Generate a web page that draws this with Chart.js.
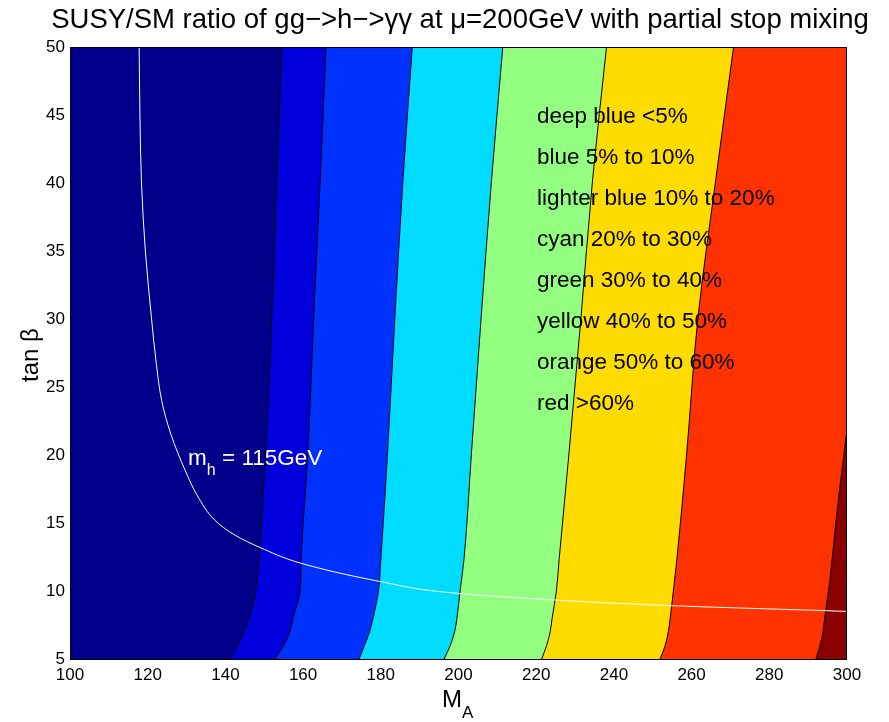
<!DOCTYPE html>
<html>
<head>
<meta charset="utf-8">
<title>SUSY/SM ratio of gg->h->γγ</title>
<script src="https://cdn.jsdelivr.net/npm/chart.js@4.4.0/dist/chart.umd.min.js"></script>
<style>
  html, body { margin: 0; padding: 0; background: #ffffff; }
  canvas { display: block; }
</style>
</head>
<body>
<canvas id="ratioPlot" width="889" height="722"></canvas>
<script>
// tan beta rows where the contour edges were sampled
var tanbRows = [5, 6, 7, 8, 10, 12.3, 20, 30, 40.2, 50];

// M_A position of each contour edge at those rows (left to right)
var edge5pc  = [141.0, 143.2, 144.6, 146.1, 147.8, 148.6, 150.3, 151.9, 153.2, 154.5];
var edge10pc = [152.8, 155.0, 156.6, 157.4, 159.2, 159.5, 161.2, 162.7, 164.4, 165.9];
var edge20pc = [174.4, 175.8, 177.1, 178.0, 179.4, 180.0, 181.7, 183.6, 185.7, 188.1];
var edge30pc = [196.3, 197.9, 199.0, 199.6, 200.4, 201.4, 203.3, 205.8, 208.5, 211.4];
var edge40pc = [221.4, 222.7, 223.6, 224.1, 225.2, 225.9, 228.4, 231.5, 234.5, 238.1];
var edge50pc = [251.9, 253.2, 254.0, 254.5, 255.3, 256.2, 258.7, 261.6, 266.2, 270.8];

// the >60% edge only reaches up to tan beta ~ 22
var tanbRowsHigh = [5, 6.5, 8.1, 10.8, 15.5, 18.65, 21.9];
var edge60pc = [292.0, 293.5, 294.3, 295.6, 297.3, 298.6, 300.0];

// m_h = 115 GeV line
var mhLineMA   = [117.8, 118.0, 118.4, 119.4, 121.0, 122.1, 123.6, 126.0, 129.6, 132.8, 137.3, 142.5, 148.9, 159.2, 179.8, 197.0, 224.8, 254.9, 294.8, 300.0];
var mhLineTanb = [50, 45, 40, 35, 30, 27, 24, 21.5, 18.9, 17, 15.2, 14.1, 13.2, 12.06, 10.7, 9.9, 9.34, 8.92, 8.55, 8.5];

var xTicks = [100, 120, 140, 160, 180, 200, 220, 240, 260, 280, 300];
var yTicks = [5, 10, 15, 20, 25, 30, 35, 40, 45, 50];

var bandColors = ['#00008b', '#0000dc', '#0032ff', '#00dcff', '#93ff80', '#ffdc00', '#ff3200', '#8a0000'];

var notes = [
  'deep blue <5%',
  'blue 5% to 10%',
  'lighter blue 10% to 20%',
  'cyan 20% to 30%',
  'green 30% to 40%',
  'yellow 40% to 50%',
  'orange 50% to 60%',
  'red >60%'
];

var FONT = '"Liberation Sans", Arial, Helvetica, sans-serif';

function edgeSet(rows, mA, color, order) {
  return {
    data: rows.map(function (t, i) { return { x: mA[i], y: t }; }),
    borderColor: '#000000',
    borderWidth: 1,
    backgroundColor: color,
    fill: { value: 300 },
    pointRadius: 0,
    cubicInterpolationMode: 'monotone',
    order: order
  };
}

var datasets = [
  {
    data: mhLineMA.map(function (m, i) { return { x: m, y: mhLineTanb[i] }; }),
    borderColor: '#ffffff',
    borderWidth: 1,
    fill: false,
    pointRadius: 0,
    cubicInterpolationMode: 'monotone',
    order: 0
  },
  edgeSet(tanbRowsHigh, edge60pc, bandColors[7], 1),
  edgeSet(tanbRows, edge50pc, bandColors[6], 2),
  edgeSet(tanbRows, edge40pc, bandColors[5], 3),
  edgeSet(tanbRows, edge30pc, bandColors[4], 4),
  edgeSet(tanbRows, edge20pc, bandColors[3], 5),
  edgeSet(tanbRows, edge10pc, bandColors[2], 6),
  edgeSet(tanbRows, edge5pc, bandColors[1], 7)
];

// labels, frame and the lowest band painted around the datasets
var decorations = {
  id: 'decorations',
  beforeDatasetsDraw: function (chart) {
    var ctx = chart.ctx, a = chart.chartArea;
    ctx.save();
    ctx.fillStyle = bandColors[0];
    ctx.fillRect(a.left, a.top, a.right - a.left, a.bottom - a.top);
    ctx.restore();
  },
  afterDraw: function (chart) {
    var ctx = chart.ctx, a = chart.chartArea;
    var xs = chart.scales.x, ys = chart.scales.y;
    ctx.save();

    // frame
    ctx.strokeStyle = '#000000';
    ctx.lineWidth = 1;
    ctx.strokeRect(a.left + 0.5, a.top + 0.5, a.right - a.left - 1, a.bottom - a.top);

    // title
    ctx.fillStyle = '#000000';
    ctx.textAlign = 'center';
    ctx.textBaseline = 'alphabetic';
    ctx.font = '27.5px ' + FONT;
    ctx.fillText('SUSY/SM ratio of gg\u2212>h\u2212>\u03b3\u03b3 at \u03bc=200GeV with partial stop mixing', 460, 28);

    // x axis label M_A
    ctx.textAlign = 'left';
    ctx.font = '24px ' + FONT;
    ctx.fillText('M', 442, 707);
    ctx.font = '17px ' + FONT;
    ctx.fillText('A', 462, 718);

    // y axis label
    ctx.save();
    ctx.translate(38, 355);
    ctx.rotate(-Math.PI / 2);
    ctx.textAlign = 'center';
    ctx.font = '24px ' + FONT;
    ctx.fillText('tan \u03b2', 0, 0);
    ctx.restore();

    // colour key
    ctx.font = '22.5px ' + FONT;
    ctx.textBaseline = 'middle';
    notes.forEach(function (txt, i) {
      ctx.fillText(txt, xs.getPixelForValue(220.2), ys.getPixelForValue(44.85 - 3.01 * i));
    });

    // m_h label
    ctx.fillStyle = '#ffffff';
    ctx.textBaseline = 'alphabetic';
    var lx = xs.getPixelForValue(130.4), ly = ys.getPixelForValue(19.3);
    ctx.font = '22.5px ' + FONT;
    ctx.fillText('m', lx, ly);
    var mw = ctx.measureText('m').width;
    ctx.font = '16px ' + FONT;
    ctx.fillText('h', lx + mw, ly + 10);
    var hw = ctx.measureText('h').width;
    ctx.font = '22.5px ' + FONT;
    ctx.fillText(' = 115GeV', lx + mw + hw, ly);

    ctx.restore();
  }
};

new Chart(document.getElementById('ratioPlot'), {
  type: 'line',
  data: { datasets: datasets },
  options: {
    indexAxis: 'y',
    responsive: false,
    animation: false,
    events: [],
    layout: { padding: { top: 47, right: 42, left: 0, bottom: 0 } },
    plugins: {
      legend: { display: false },
      tooltip: { enabled: false },
      filler: { propagate: false }
    },
    scales: {
      x: {
        type: 'linear',
        position: 'bottom',
        min: 100,
        max: 300,
        grid: { display: false, drawTicks: false },
        border: { display: false },
        afterBuildTicks: function (s) { s.ticks = xTicks.map(function (v) { return { value: v }; }); },
        afterFit: function (s) { s.height = 63; },
        ticks: { color: '#000000', padding: 6, maxRotation: 0, font: { family: FONT, size: 17 } }
      },
      y: {
        type: 'linear',
        position: 'left',
        min: 5,
        max: 50,
        grid: { display: false, drawTicks: false },
        border: { display: false },
        afterBuildTicks: function (s) { s.ticks = yTicks.map(function (v) { return { value: v }; }); },
        afterFit: function (s) { s.width = 70; },
        ticks: { color: '#000000', padding: 5, font: { family: FONT, size: 17 } }
      }
    }
  },
  plugins: [decorations]
});
</script>
</body>
</html>
